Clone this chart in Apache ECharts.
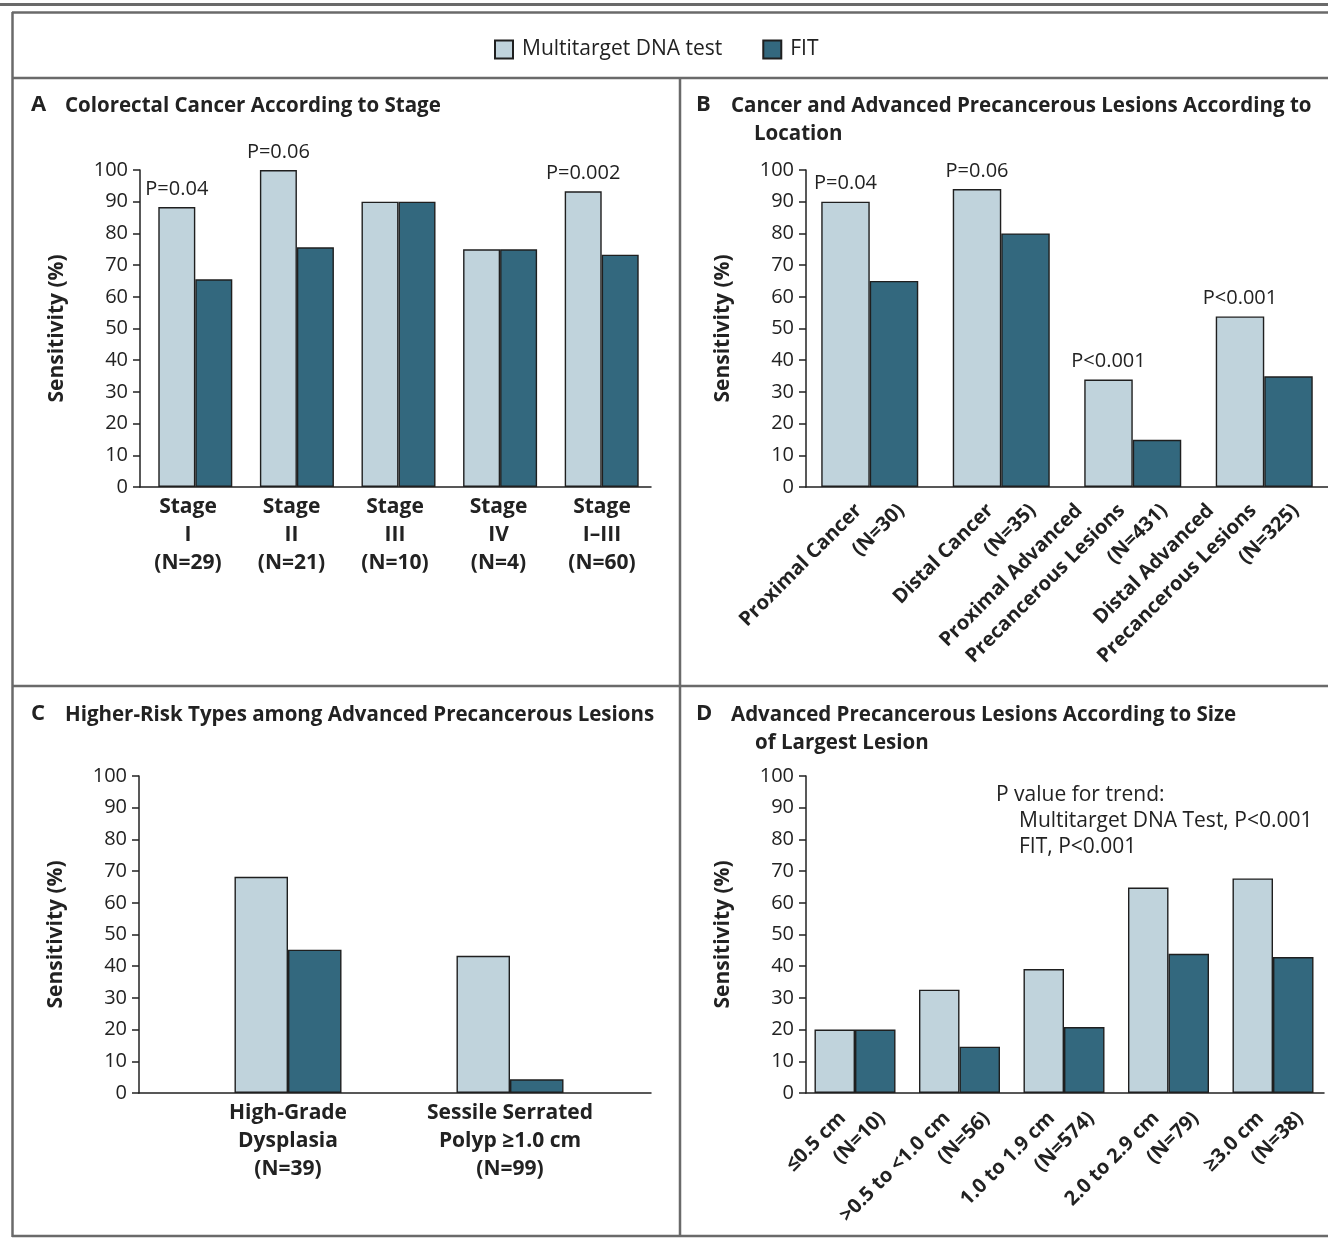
<!DOCTYPE html>
<html>
<head>
<meta charset="utf-8">
<script src="https://cdn.jsdelivr.net/npm/echarts@6/dist/echarts.min.js"></script>
<style>
  html, body { margin: 0; padding: 0; background: #ffffff; }
  #chart { width: 1328px; height: 1241px; }
</style>
</head>
<body>
<div id="chart"></div>
<script>
// ---- data ----
const seriesNames = ['Multitarget DNA test', 'FIT'];
const yMin = 0, yMax = 100, yStep = 10;

// A: colorectal cancer by stage
const stageCategories = ['Stage\nI\n(N=29)', 'Stage\nII\n(N=21)', 'Stage\nIII\n(N=10)', 'Stage\nIV\n(N=4)', 'Stage\nI\u2013III\n(N=60)'];
const stageDna = [88.3, 100, 90, 75, 93.3];
const stageFit = [65.5, 75.6, 90, 75, 73.3];
const stageP = ['P=0.04', 'P=0.06', '', '', 'P=0.002'];

// B: cancer and advanced precancerous lesions by location
const locationCategories = ['Proximal Cancer\n(N=30)', 'Distal Cancer\n(N=35)', 'Proximal Advanced\nPrecancerous Lesions\n(N=431)', 'Distal Advanced\nPrecancerous Lesions\n(N=325)'];
const locationDna = [90, 94, 33.9, 53.8];
const locationFit = [65, 80, 14.9, 34.9];
const locationP = ['P=0.04', 'P=0.06', 'P<0.001', 'P<0.001'];

// C: higher-risk lesion types
const riskCategories = ['High-Grade\nDysplasia\n(N=39)', 'Sessile Serrated\nPolyp \u22651.0 cm\n(N=99)'];
const riskDna = [68.2, 43.3];
const riskFit = [45.2, 4.3];

// D: advanced precancerous lesions by size of largest lesion
const sizeCategories = ['\u22640.5 cm\n(N=10)', '>0.5 to <1.0 cm\n(N=56)', '1.0 to 1.9 cm\n(N=574)', '2.0 to 2.9 cm\n(N=79)', '\u22653.0 cm\n(N=38)'];
const sizeDna = [20, 32.6, 39.1, 64.8, 67.7];
const sizeFit = [20, 14.6, 20.8, 43.9, 42.9];
const trendNote = ['P value for trend:', 'Multitarget DNA Test, P<0.001', 'FIT, P<0.001'];

// ---- styling ----
const FONT = '"Open Sans", "Noto Sans", "DejaVu Sans", sans-serif';
const INK = '#222222';
const LIGHT = { color: '#c0d3dc', borderColor: '#1f1f1f', borderWidth: 1.4 };
const DARK = { color: '#33687e', borderColor: '#1f1f1f', borderWidth: 1.4 };
const FRAME = '#6a6a6a';

const chart = echarts.init(document.getElementById('chart'), null, { renderer: 'canvas' });

// Grids: each panel has a frame grid (y axis + baseline), an inner grid for the bars,
// and a label grid that carries the category labels.
function g(left, top, width, height) {
  return { left, top, width, height, containLabel: false, outerBoundsMode: 'none' };
}
const grids = [
  g(140, 170, 511, 317),      // 0 A frame
  g(144.5, 170, 508, 317),    // 1 A bars
  g(136.25, 170, 517.5, 317), // 2 A labels
  g(806, 170, 522, 317),      // 3 B frame
  g(804, 170, 526, 317),      // 4 B bars
  g(846, 170, 526, 317),      // 5 B labels
  g(139, 776, 512, 317),      // 6 C frame
  g(177, 776, 444, 317),      // 7 C bars
  g(177, 776, 444, 317),      // 8 C labels
  g(806, 776, 518, 317),      // 9 D frame
  g(802.75, 776, 522.5, 317), // 10 D bars
  g(839.75, 776, 522.5, 317)  // 11 D labels
];

function frameX(gi) {
  return {
    gridIndex: gi, type: 'value', min: 0, max: 1,
    axisLine: { show: true, onZero: false, lineStyle: { color: INK, width: 1.5 } },
    axisTick: { show: false }, axisLabel: { show: false }, splitLine: { show: false }
  };
}
function frameY(gi) {
  return {
    gridIndex: gi, type: 'value', min: yMin, max: yMax, interval: yStep,
    name: 'Sensitivity (%)', nameLocation: 'middle', nameGap: 72, nameRotate: 90,
    nameTextStyle: { fontFamily: FONT, fontSize: 21, fontWeight: 'bold', color: INK },
    axisLine: { show: true, lineStyle: { color: INK, width: 1.5 } },
    axisTick: { show: true, length: 7, lineStyle: { color: INK, width: 1.5 } },
    axisLabel: { margin: 12, fontFamily: FONT, fontSize: 20, color: INK },
    splitLine: { show: false }
  };
}
function hiddenY(gi) {
  return { gridIndex: gi, type: 'value', min: yMin, max: yMax, show: false };
}
function hiddenX(gi, cats) {
  return {
    gridIndex: gi, type: 'category', data: cats,
    axisLine: { show: false }, axisTick: { show: false }, splitLine: { show: false },
    axisLabel: { show: false }
  };
}
function labelX(gi, cats) {
  return {
    gridIndex: gi, type: 'category', data: cats,
    axisLine: { show: false }, axisTick: { show: false }, splitLine: { show: false },
    axisLabel: {
      interval: 0, margin: 6,
      fontFamily: FONT, fontSize: 21, fontWeight: 'bold', color: INK, lineHeight: 28
    }
  };
}
// Rotated multi-line labels: each earlier line ends a step short of the next one.
function rotatedX(gi, cats, fontSize, lineHeight, step, margin) {
  const rich = {};
  for (let k = 0; k < 3; k++) {
    rich['s' + k] = {
      fontFamily: FONT, fontSize: fontSize, fontWeight: 'bold', color: INK,
      lineHeight: lineHeight, padding: [0, k * step, 0, 0]
    };
  }
  return {
    gridIndex: gi, type: 'category', data: cats,
    axisLine: { show: false }, axisTick: { show: false }, splitLine: { show: false },
    axisLabel: {
      interval: 0, rotate: 45, margin: margin, align: 'right', verticalAlign: 'bottom',
      hideOverlap: false,
      fontFamily: FONT, fontSize: fontSize, fontWeight: 'bold', color: INK,
      formatter: function (value) {
        const lines = value.split('\n');
        const n = lines.length;
        return lines.map((t, i) => '{s' + (n - 1 - i) + '|' + t + '}').join('\n');
      },
      rich: rich
    }
  };
}

function pLabel(list) {
  return {
    show: true, position: 'top', distance: 8,
    fontFamily: FONT, fontSize: 20, color: INK,
    formatter: p => list[p.dataIndex]
  };
}
function barPair(axisIndex, dna, fit, width, pList) {
  const light = {
    type: 'bar', name: seriesNames[0], xAxisIndex: axisIndex, yAxisIndex: axisIndex,
    data: dna, barWidth: width, barGap: '0%', itemStyle: LIGHT
  };
  if (pList) light.label = pLabel(pList);
  const dark = {
    type: 'bar', name: seriesNames[1], xAxisIndex: axisIndex, yAxisIndex: axisIndex,
    data: fit, barWidth: width, barGap: '0%', itemStyle: DARK
  };
  return [light, dark];
}

const xAxes = [
  frameX(0), hiddenX(1, stageCategories), labelX(2, stageCategories),
  frameX(3), hiddenX(4, locationCategories), rotatedX(5, locationCategories, 20, 30, 30, 31),
  frameX(6), hiddenX(7, riskCategories), labelX(8, riskCategories),
  frameX(9), hiddenX(10, sizeCategories), rotatedX(11, sizeCategories, 20, 28, 28, 32)
];
const yAxes = [
  frameY(0), hiddenY(1), hiddenY(2),
  frameY(3), hiddenY(4), hiddenY(5),
  frameY(6), hiddenY(7), hiddenY(8),
  frameY(9), hiddenY(10), hiddenY(11)
];

const series = [].concat(
  barPair(1, stageDna, stageFit, 37, stageP),
  barPair(4, locationDna, locationFit, 48.5, locationP),
  barPair(7, riskDna, riskFit, 53.5, null),
  barPair(10, sizeDna, sizeFit, 40.5, null)
);

function line(x1, y1, x2, y2, w) {
  return { type: 'line', shape: { x1, y1, x2, y2 }, style: { stroke: FRAME, lineWidth: w || 2.5 }, silent: true };
}
function text(x, y, str, size, weight) {
  return {
    type: 'text', x: x, y: y, silent: true,
    style: { text: str, fontFamily: FONT, fontSize: size, fontWeight: weight || 'normal', fill: INK, verticalAlign: 'middle' }
  };
}

const graphics = [
  // panel frame
  line(0, 4.5, 1328, 4.5, 3),
  line(12, 12.5, 1328, 12.5),
  line(12.5, 12, 12.5, 1237),
  line(12, 78, 1328, 78),
  line(680, 78, 680, 1237),
  line(12, 686, 1328, 686),
  line(12, 1236, 1328, 1236),
  // panel titles
  text(31, 105, 'A', 22, 'bold'),
  text(65, 106, 'Colorectal Cancer According to Stage', 20.5, 'bold'),
  text(696, 105, 'B', 22, 'bold'),
  text(731, 106, 'Cancer and Advanced Precancerous Lesions According to', 20.5, 'bold'),
  text(754, 134, 'Location', 20.5, 'bold'),
  text(31, 714, 'C', 22, 'bold'),
  text(65, 715, 'Higher-Risk Types among Advanced Precancerous Lesions', 20.5, 'bold'),
  text(696, 714, 'D', 22, 'bold'),
  text(731, 715, 'Advanced Precancerous Lesions According to Size', 20.5, 'bold'),
  text(755, 743, 'of Largest Lesion', 20.5, 'bold'),
  // trend note in panel D
  text(996, 795, trendNote[0], 21),
  text(1019, 821, trendNote[1], 21),
  text(1019, 847, trendNote[2], 21)
];

chart.setOption({
  animation: false,
  backgroundColor: '#ffffff',
  legend: {
    data: seriesNames, left: 489, top: 34, itemWidth: 18, itemHeight: 18, itemGap: 40,
    selectedMode: false, icon: 'rect',
    textStyle: { fontFamily: FONT, fontSize: 21, color: INK, padding: [0, 0, 0, 4] }
  },
  grid: grids,
  xAxis: xAxes,
  yAxis: yAxes,
  series: series,
  graphic: graphics
});
</script>
</body>
</html>
